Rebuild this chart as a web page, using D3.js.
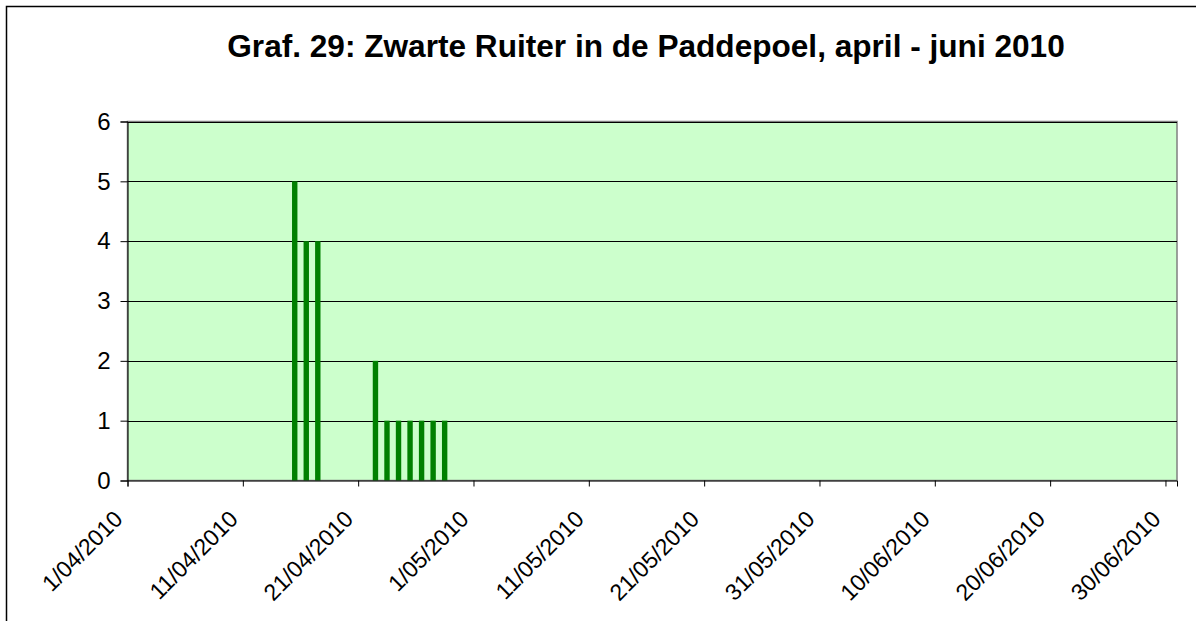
<!DOCTYPE html>
<html><head><meta charset="utf-8">
<script src="https://cdn.jsdelivr.net/npm/d3@7"></script>
<style>body{margin:0;background:#fff}svg{display:block}text{font-family:"Liberation Sans",Arial,sans-serif}</style>
</head><body>
<svg id="c" width="1196" height="621"></svg>
<script>
const title = "Graf. 29: Zwarte Ruiter in de Paddepoel, april - juni 2010";
const dates = ["2010-04-15","2010-04-16","2010-04-17","2010-04-22","2010-04-23","2010-04-24","2010-04-25","2010-04-26","2010-04-27","2010-04-28"];
const counts = [5,4,4,2,1,1,1,1,1,1];
const xTickDates = ["2010-04-01","2010-04-11","2010-04-21","2010-05-01","2010-05-11","2010-05-21","2010-05-31","2010-06-10","2010-06-20","2010-06-30"];
const yTicks = [0,1,2,3,4,5,6];

const parse = d3.utcParse("%Y-%m-%d");
const fmt = d => `${d.getUTCDate()}/${String(d.getUTCMonth()+1).padStart(2,"0")}/${d.getUTCFullYear()}`;
const svg = d3.select("#c");
const L = 127.5, R = 1177, T = 121.5, B = 480.5;
const x = d3.scaleUtc().domain([parse("2010-04-01"), parse("2010-07-01")]).range([L, R]);
const y = d3.scaleLinear().domain([0,6]).range([B, T]);
const day = x(parse("2010-04-02")) - x(parse("2010-04-01"));
const FONT = "'Liberation Sans',Arial,sans-serif";

svg.append("rect").attr("x",6.5).attr("y",6.5).attr("width",1260).attr("height",700)
  .attr("fill","#fff").attr("stroke","#000").attr("stroke-width",1.5);

svg.append("text").attr("x",646).attr("y",57).attr("text-anchor","middle")
  .attr("font-size",31.6).attr("font-weight","bold").text(title);

svg.append("rect").attr("x",L).attr("y",T).attr("width",R-L).attr("height",B-T)
  .attr("fill","#CCFFCC").attr("stroke","#808080").attr("stroke-width",1.5);

svg.append("g").selectAll("line").data(yTicks.filter(v=>v>0)).join("line")
  .attr("x1",L).attr("x2",R).attr("y1",d=>Math.round(y(d))+0.5).attr("y2",d=>Math.round(y(d))+0.5)
  .attr("stroke","#000").attr("stroke-width",1);

svg.append("g").selectAll("rect").data(dates.map((d,i)=>({d:parse(d),v:counts[i]}))).join("rect")
  .attr("x",d=>x(d.d)+day/2-2.7).attr("width",5.4)
  .attr("y",d=>y(d.v)).attr("height",d=>y(0)-y(d.v)).attr("fill","#008000");

const yAxis = svg.append("g").attr("transform",`translate(${L},0)`)
  .call(d3.axisLeft(y).tickValues(yTicks).tickSize(7).tickPadding(10).tickFormat(d3.format("d")));
yAxis.select(".domain").attr("stroke","#000");
yAxis.selectAll("line").attr("stroke","#000");
yAxis.selectAll("text").attr("font-size",24).attr("fill","#000").attr("font-family",FONT);

const xAxis = svg.append("g").attr("transform",`translate(0,${B})`)
  .call(d3.axisBottom(x).tickValues(xTickDates.map(parse)).tickSize(6).tickFormat(fmt));
xAxis.select(".domain").attr("stroke","#000");
xAxis.selectAll("line").attr("stroke","#000");
xAxis.selectAll("text").attr("font-size",23).attr("fill","#000").attr("font-family",FONT)
  .attr("text-anchor","end").attr("y",0).attr("dy",0)
  .attr("transform","translate(-4,40) rotate(-45)");
</script>
</body></html>
